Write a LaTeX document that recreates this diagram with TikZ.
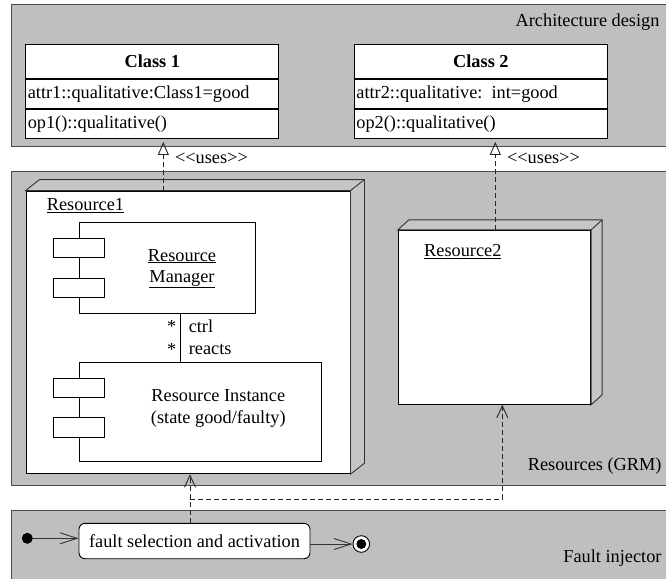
\documentclass[tikz,border=0pt]{standalone}
\usepackage{fontspec}
\setmainfont{Liberation Serif}
\usepackage{tikz}
\usetikzlibrary{arrows.meta, positioning}
\newcommand{\diagfont}{\fontsize{18.3}{22}\selectfont}
\newcommand{\devicesides}[3]{%
	\draw[device side] (#1.north west) -- ++(#2,-#3) -- ([shift={(#2,-#3)}]#1.north east)
		-- ([shift={(#2,-#3)}]#1.south east) -- (#1.south east) -- (#1.north east) -- cycle;
	\draw[device side] (#1.north east) -- ++(#2,-#3);
}
\tikzset{
		panel/.style={draw=black!70, fill=gray!50, line width=1pt},
		class title/.style={draw, fill=white, line width=0.9pt, minimum width=253, minimum height=34.4, font=\diagfont\bfseries},
		class row/.style={draw, fill=white, line width=0.9pt, text width=249, inner xsep=2pt, minimum height=29, align=left},
		device/.style={draw, fill=white, line width=0.9pt},
		device side/.style={draw=black!80, fill=gray!45, line width=0.9pt},
		component/.style={draw, fill=white, line width=0.9pt},
		port/.style={draw, fill=white, line width=0.9pt, minimum width=51, minimum height=19.4, inner sep=0pt},
		assoc/.style={line width=0.9pt},
		uses/.style={draw=black!85, line width=0.9pt, dash pattern=on 5pt off 3pt, -{Triangle[open, length=13pt, width=11pt]}, shorten >=3pt},
		uses label/.style={anchor=west, xshift=8pt, yshift=-19pt},
		dep/.style={draw=black!85, line width=0.9pt, dash pattern=on 5pt off 3pt, -{Straight Barb[length=12pt, width=11pt]}},
		flow/.style={draw=black!80, line width=0.9pt, -{Straight Barb[length=17pt, width=11pt]}},
		action/.style={draw, fill=white, line width=0.9pt, rounded corners=6pt, minimum width=231, minimum height=35.4},
		initial dot/.style={circle, fill=black, minimum size=11, inner sep=0pt},
		final dot/.style={circle, draw, fill=white, line width=0.9pt, minimum size=16.6, inner sep=0pt,
			path picture={\fill[black] (path picture bounding box.center) circle (5pt);}}
	}

\begin{document}
\begin{tikzpicture}[x=1pt, y=-1pt, font=\diagfont]
	\useasboundingbox (0,0) rectangle (666,578);
	\clip (0,0) rectangle (666,578);
	% swimlanes
	\draw[panel] (11.7,4.3) rectangle (690,146.7);
	\draw[panel] (11.7,171) rectangle (690,485);
	\draw[panel] (11.7,510.3) rectangle (690,600);
	\node[anchor=east] (archtitle) at (663,21.7) {Architecture design};
	\node[anchor=east] (grmtitle)  at (665,465.7) {Resources (GRM)};
	\node[anchor=east] (fititle)   at (665,558.3) {Fault injector};

	% classes
	\node[class title] (c1) at (152.3,61.5) {Class 1};
	\node[class row, below=0pt of c1] (c1attr) {attr1::qualitative:Class1=good};
	\node[class row, below=0pt of c1attr] (c1ops) {op1()::qualitative()};
	\node[class title] (c2) at (480.9,61.5) {Class 2};
	\node[class row, below=0pt of c2] (c2attr) {attr2::qualitative: int=good};
	\node[class row, below=0pt of c2attr] (c2ops) {op2()::qualitative()};

	% resource 1
	\node[device, minimum width=324, minimum height=282.7] (res1) at (188,332.4) {};
	\devicesides{res1}{14}{11}
	\node[anchor=west] (res1name) at (43.3,205.7) {\underline{Resource1}};
	\node[component, minimum width=176.7, minimum height=91.4] (mgr) at (167.3,268) {};
	\node[port] (mgrp1) at ([yshift=20]mgr.west) {};
	\node[port] (mgrp2) at ([yshift=-20]mgr.west) {};
	\node[align=center] (mgrname) at (182,268.5) {\underline{Resource}\\[-1pt]\underline{Manager}};
	\node[component, minimum width=242.7, minimum height=98.7] (inst) at (200.3,411.7) {};
	\node[port] (instp1) at ([yshift=23.9]inst.west) {};
	\node[port] (instp2) at ([yshift=-15.8]inst.west) {};
	\node[align=center] (instname) at (218.3,408.7) {Resource Instance\\(state good/faulty)};
	\coordinate (link) at (180,0);
	\draw[assoc] (mgr.south -| link) -- (inst.north -| link)
		node[pos=.25, left] {*} node[pos=.25, right=5pt] {ctrl}
		node[pos=.73, left] {*} node[pos=.73, right=5pt] {reacts};

	% resource 2
	\node[device, minimum width=192.4, minimum height=174] (res2) at (494.5,317.3) {};
	\devicesides{res2}{11}{10}
	\node[anchor=west] (res2name) at (420.7,251.7) {\underline{Resource2}};

	% uses
	\coordinate (u1) at (163.3,0);
	\coordinate (u2) at (495.3,0);
	\draw[uses] (res1.north -| u1) -- (c1ops.south -| u1) node[uses label] {<{}<uses>{}>};
	\draw[uses] (res2.north -| u2) -- (c2ops.south -| u2) node[uses label] {<{}<uses>{}>};

	% fault injector
	\node[initial dot] (start) at (27.3,538.3) {};
	\node[action] (fault) at (194.5,541) {fault selection and activation};
	\node[final dot] (stop) at (361.3,544) {};
	\draw[flow] (start) -- (start -| fault.west);
	\draw[flow] (fault.east |- stop) -- (stop);
	\coordinate (split) at (190,499);
	\coordinate (turn) at (502.3,499);
	\draw[dep] (fault.north -| split) -- (res1.south -| split);
	\draw[dep] (split) -- (turn) -- (turn |- res2.south);
\end{tikzpicture}
\end{document}
